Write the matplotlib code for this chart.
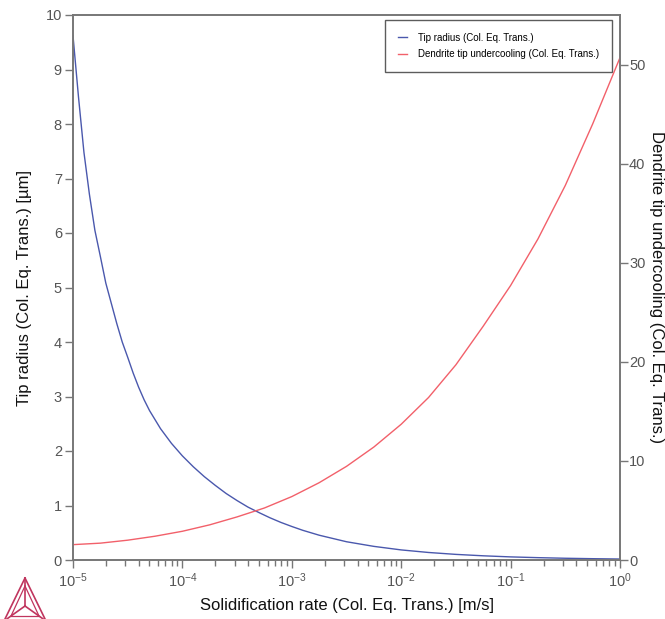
import numpy as np
import matplotlib
matplotlib.use("Agg")
import matplotlib.pyplot as plt
from matplotlib.lines import Line2D
from matplotlib.ticker import LogLocator, FixedLocator, NullFormatter

plt.rcParams['font.family'] = ['Liberation Sans', 'DejaVu Sans']
plt.rcParams['mathtext.fontset'] = 'custom'
plt.rcParams['mathtext.rm'] = 'Liberation Sans'
plt.rcParams['mathtext.it'] = 'Liberation Sans'

# Data (log10 of solidification rate in m/s)
log_rate_radius = [-5.0, -4.95, -4.9, -4.85, -4.8, -4.75, -4.7, -4.65, -4.6, -4.55, -4.5,
                   -4.45, -4.4, -4.35, -4.3, -4.2, -4.1, -4.0, -3.9, -3.8, -3.7, -3.6,
                   -3.5, -3.4, -3.3, -3.2, -3.1, -3.0, -2.9, -2.75, -2.5, -2.25, -2.0,
                   -1.75, -1.5, -1.25, -1.0, -0.75, -0.5, -0.25, 0.0]
tip_radius = [9.62, 8.5, 7.48, 6.71, 6.05, 5.57, 5.08, 4.71, 4.34, 4.0, 3.72,
              3.43, 3.17, 2.94, 2.74, 2.41, 2.14, 1.91, 1.71, 1.53, 1.37, 1.22,
              1.09, 0.97, 0.87, 0.775, 0.69, 0.615, 0.545, 0.455, 0.335, 0.25, 0.185,
              0.138, 0.103, 0.077, 0.057, 0.043, 0.032, 0.024, 0.018]

log_rate_under = [-5.0, -4.75, -4.5, -4.25, -4.0, -3.75, -3.5, -3.25, -3.0, -2.75,
                  -2.5, -2.25, -2.0, -1.75, -1.5, -1.25, -1.0, -0.75, -0.5, -0.25, 0.0]
tip_undercooling = [1.55, 1.7, 2.0, 2.4, 2.9, 3.55, 4.35, 5.25, 6.4, 7.8,
                    9.45, 11.4, 13.7, 16.4, 19.7, 23.6, 27.7, 32.4, 37.8, 44.0, 50.7]

x_tick_exps = [-5, -4, -3, -2, -1, 0]
left_ticks = list(range(0, 11))
right_ticks = [0, 10, 20, 30, 40, 50]

label_radius = 'Tip radius (Col. Eq. Trans.)'
label_under = 'Dendrite tip undercooling (Col. Eq. Trans.)'

blue = '#4a58ad'
red = '#f2606a'
spine_c = '#777777'
tick_c = '#555555'

fig = plt.figure(figsize=(6.65, 6.19), dpi=100)
ax = fig.add_axes([73/665, 1-560/619, (620-73)/665, (560-15)/619])
ax2 = ax.twinx()

xr = [10.0**v for v in log_rate_radius]
xu = [10.0**v for v in log_rate_under]
ax.plot(xr, tip_radius, color=blue, lw=1.0)
ax2.plot(xu, tip_undercooling, color=red, lw=1.0)

ax.set_xscale('log')
ax.set_xlim(1e-5, 1.0)
ax.set_ylim(0, 10)
ax2.set_ylim(0, 55)

ax.xaxis.set_major_locator(FixedLocator([10.0**e for e in x_tick_exps]))
ax.set_xticklabels([r'$10^{%d}$' % e for e in x_tick_exps])
ax.xaxis.set_minor_locator(LogLocator(base=10, subs=np.arange(2, 10)))
ax.xaxis.set_minor_formatter(NullFormatter())
ax.set_yticks(left_ticks)
ax2.set_yticks(right_ticks)

for a in (ax, ax2):
    for s in a.spines.values():
        s.set_color(spine_c)
        s.set_linewidth(1.2)
    a.tick_params(axis='both', which='major', direction='out', length=6, width=1,
                  color=spine_c, labelcolor=tick_c, labelsize=10.5, pad=2)
    a.tick_params(axis='both', which='minor', direction='out', length=4, width=1,
                  color=spine_c)
ax2.tick_params(axis='y', which='major', pad=0.5)

lab_kw = dict(fontsize=12, color='#111111')
ax.set_xlabel('Solidification rate (Col. Eq. Trans.) [m/s]', labelpad=6, **lab_kw)
ax.set_ylabel('Tip radius (Col. Eq. Trans.) [µm]', labelpad=10, **lab_kw)
ax2.set_ylabel('Dendrite tip undercooling (Col. Eq. Trans.)', rotation=270, **lab_kw)
ax2.yaxis.set_label_coords(1.0805, 0.5)

handles = [Line2D([], [], color=blue, lw=1.0), Line2D([], [], color=red, lw=1.0)]
leg = ax.legend(handles, [label_radius, label_under], loc='upper right',
                bbox_to_anchor=((612-73)/547, (560-20)/545), borderaxespad=0,
                fontsize=7.0, frameon=True, fancybox=False,
                handlelength=0.9, borderpad=1.3, labelspacing=0.65, handletextpad=1.2)
leg.get_frame().set_edgecolor('#333333')
leg.get_frame().set_linewidth(1.0)

# Logo (triangle)
logo_c = '#c0355e'
def fx(px): return px / 665
def fy(py): return 1 - py / 619
apex = (25, 578); bl = (4, 621); br = (46, 621); cen = (25, 606)
for (p, q) in [(apex, bl), (bl, br), (br, apex), (apex, cen), (bl, cen), (br, cen)]:
    fig.add_artist(Line2D([fx(p[0]), fx(q[0])], [fy(p[1]), fy(q[1])], color=logo_c, lw=1.2))
apex2 = (25, 586); bl2 = (11, 616); br2 = (39, 616)
for (p, q) in [(apex2, bl2), (bl2, br2), (br2, apex2)]:
    fig.add_artist(Line2D([fx(p[0]), fx(q[0])], [fy(p[1]), fy(q[1])], color=logo_c, lw=0.9))

fig.savefig('out.png', dpi=100)
